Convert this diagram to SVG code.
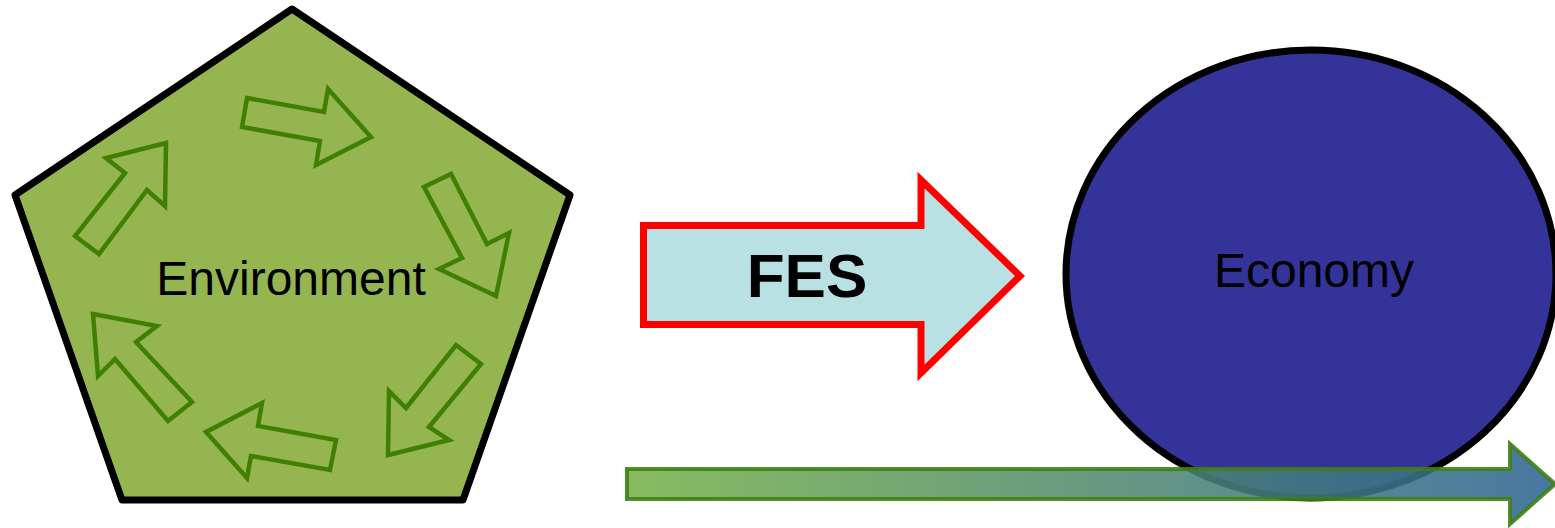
<svg xmlns="http://www.w3.org/2000/svg" width="1555" height="528" viewBox="0 0 1555 528">
<style>
.lbl{font-family:"Liberation Sans",Arial,sans-serif;font-size:48px;fill:#000;text-anchor:middle}
.cyc{fill:none;stroke:#3f8000;stroke-width:4.5;stroke-linejoin:miter}
</style>
<defs>
<linearGradient id="g" x1="0" y1="0" x2="1" y2="0">
<stop offset="0" stop-color="#78b24a"/>
<stop offset="1" stop-color="#2e6594"/>
</linearGradient>
</defs>
<g id="environment">
<polygon points="292,9 570,195 463,500 122,500 15,195" fill="#95b551" stroke="#000" stroke-width="7" stroke-linejoin="round"/>
<polygon class="cyc" points="247,98 324,112 328,89 371,137 316,165 320,141 242,127"/>
<polygon class="cyc" points="424,187 451,174 487,244 509,233 496,296 439,269 462,258"/>
<polygon class="cyc" points="456,345 481,364 429,427 449,440 388,455 389,391 406,408"/>
<polygon class="cyc" points="336,440 330,470 251,456 247,478 206,432 262,403 258,426"/>
<polygon class="cyc" points="192,402 168,421 115,359 98,376 93,314 157,326 136,342"/>
<polygon class="cyc" points="75,236 99,254 147,190 165,206 166,143 106,158 125,173"/>
<text class="lbl" x="291" y="295">Environment</text>
</g>
<g id="economy">
<ellipse cx="1311" cy="274" rx="245" ry="224" fill="#333399" stroke="#000" stroke-width="7"/>
<text class="lbl" x="1314" y="287">Economy</text>
</g>
<g id="connectors">
<g id="fes">
<polygon points="643.5,225.5 921,225.5 921,180 1020,276 921,373 921,324.5 643.5,324.5" fill="#b9e0e3" stroke="#ff0000" stroke-width="7"/>
<text x="807" y="297" font-family="Liberation Sans,Arial,sans-serif" font-size="62" font-weight="bold" text-anchor="middle" fill="#000">FES</text>
</g>
<polygon id="flow" points="627,469 1510,469 1510,444 1555,484 1510,524 1510,499 627,499" fill="url(#g)" fill-opacity="0.88" stroke="#3f8014" stroke-width="4" stroke-opacity="0.9"/>
</g>
</svg>
